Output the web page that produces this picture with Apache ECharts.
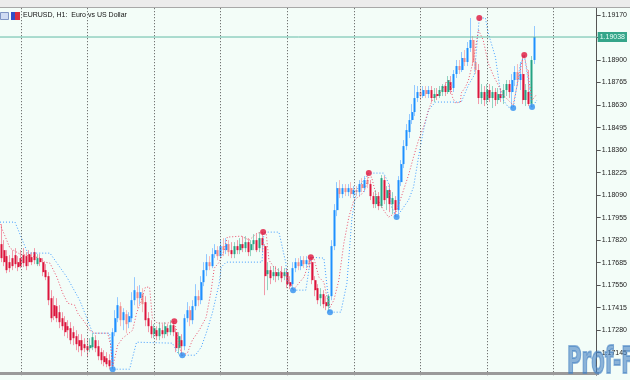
<!DOCTYPE html>
<html><head><meta charset="utf-8">
<script src="https://cdn.jsdelivr.net/npm/echarts@6/dist/echarts.min.js"></script>
<style>html,body{margin:0;padding:0;background:#f3fdf8}#c{width:630px;height:380px}</style>
</head><body><div id="c"></div>
<script>
// ---------- data ----------
const symbolTitle = 'EURUSD, H1:  Euro vs US Dollar';
const categories = Array.from({length: 215}, (_, i) => 'H' + i);
const yTickStart = 1.17010, yTickStep = 0.00135, yTop = 1.19212;
const lastPrice = 1.19038;

const open = [1.17796,1.17760,1.17724,1.17688,1.17712,1.17730,1.17688,1.17712,1.17730,1.17724,
1.17736,1.17718,1.17748,1.17676,1.17712,1.17688,1.17640,1.17604,1.17472,1.17430,
1.17424,1.17388,1.17352,1.17328,1.17304,1.17292,1.17268,1.17244,1.17220,1.17220,
1.17196,1.17184,1.17172,1.17178,1.17220,1.17184,1.17148,1.17124,1.17112,1.17100,
1.17064,1.17268,1.17352,1.17424,1.17340,1.17376,1.17328,1.17352,1.17460,1.17508,
1.17472,1.17496,1.17448,1.17352,1.17304,1.17256,1.17280,1.17244,1.17280,1.17256,
1.17292,1.17268,1.17310,1.17268,1.17172,1.17220,1.17184,1.17352,1.17400,1.17340,
1.17424,1.17484,1.17460,1.17568,1.17640,1.17688,1.17664,1.17736,1.17760,1.17724,
1.17784,1.17760,1.17796,1.17760,1.17736,1.17784,1.17760,1.17796,1.17772,1.17808,
1.17760,1.17796,1.17820,1.17772,1.17832,1.17784,1.17616,1.17640,1.17604,1.17628,
1.17604,1.17628,1.17604,1.17628,1.17568,1.17556,1.17652,1.17688,1.17664,1.17700,
1.17676,1.17700,1.17688,1.17580,1.17532,1.17472,1.17496,1.17448,1.17424,1.17484,
1.17784,1.18000,1.18132,1.18096,1.18132,1.18108,1.18132,1.18096,1.18120,1.18108,
1.18156,1.18132,1.18180,1.18156,1.18084,1.18036,1.18084,1.18024,1.18180,1.18072,
1.18120,1.18036,1.18060,1.18000,1.18168,1.18276,1.18384,1.18468,1.18540,1.18588,
1.18672,1.18708,1.18684,1.18720,1.18696,1.18720,1.18672,1.18696,1.18684,1.18708,
1.18744,1.18708,1.18768,1.18732,1.18816,1.18864,1.18840,1.18912,1.18888,1.18972,
1.19020,1.18888,1.18840,1.18672,1.18708,1.18660,1.18720,1.18672,1.18708,1.18660,
1.18696,1.18672,1.18720,1.18756,1.18708,1.18780,1.18828,1.18780,1.18816,1.18660,
1.18708,1.18636,1.18900];
const close = [1.17712,1.17688,1.17640,1.17652,1.17664,1.17676,1.17658,1.17664,1.17682,1.17664,
1.17688,1.17688,1.17700,1.17712,1.17688,1.17628,1.17598,1.17460,1.17352,1.17364,
1.17352,1.17328,1.17304,1.17268,1.17280,1.17220,1.17232,1.17196,1.17184,1.17160,
1.17172,1.17160,1.17190,1.17238,1.17172,1.17124,1.17100,1.17088,1.17076,1.17064,
1.17268,1.17352,1.17430,1.17340,1.17388,1.17316,1.17364,1.17460,1.17520,1.17472,
1.17508,1.17436,1.17340,1.17304,1.17256,1.17292,1.17244,1.17292,1.17256,1.17304,
1.17268,1.17310,1.17268,1.17172,1.17244,1.17184,1.17352,1.17400,1.17340,1.17424,
1.17484,1.17460,1.17568,1.17640,1.17688,1.17664,1.17736,1.17760,1.17724,1.17784,
1.17760,1.17796,1.17748,1.17736,1.17784,1.17760,1.17796,1.17772,1.17808,1.17748,
1.17796,1.17820,1.17760,1.17832,1.17790,1.17604,1.17640,1.17592,1.17628,1.17604,
1.17628,1.17592,1.17628,1.17556,1.17544,1.17652,1.17688,1.17664,1.17700,1.17676,
1.17700,1.17676,1.17580,1.17520,1.17460,1.17496,1.17436,1.17424,1.17484,1.17784,
1.18000,1.18132,1.18096,1.18132,1.18108,1.18132,1.18096,1.18120,1.18108,1.18156,
1.18132,1.18180,1.18156,1.18084,1.18036,1.18084,1.18024,1.18192,1.18060,1.18120,
1.18036,1.18072,1.18000,1.18180,1.18276,1.18384,1.18480,1.18540,1.18588,1.18672,
1.18708,1.18684,1.18720,1.18696,1.18720,1.18672,1.18696,1.18684,1.18720,1.18744,
1.18708,1.18780,1.18720,1.18816,1.18864,1.18840,1.18912,1.18888,1.18972,1.19020,
1.18888,1.18840,1.18672,1.18708,1.18660,1.18720,1.18672,1.18708,1.18660,1.18696,
1.18672,1.18720,1.18756,1.18708,1.18780,1.18828,1.18780,1.18816,1.18660,1.18720,
1.18636,1.18900,1.19038];
const high = [1.17916,1.17820,1.17760,1.17730,1.17760,1.17772,1.17724,1.17760,1.17772,1.17748,
1.17760,1.17748,1.17772,1.17736,1.17736,1.17712,1.17676,1.17628,1.17520,1.17484,
1.17472,1.17430,1.17388,1.17364,1.17340,1.17328,1.17304,1.17280,1.17256,1.17256,
1.17232,1.17232,1.17232,1.17262,1.17250,1.17220,1.17172,1.17160,1.17148,1.17136,
1.17292,1.17400,1.17478,1.17448,1.17412,1.17400,1.17388,1.17508,1.17598,1.17544,
1.17550,1.17532,1.17484,1.17388,1.17340,1.17316,1.17304,1.17328,1.17316,1.17328,
1.17316,1.17340,1.17334,1.17292,1.17268,1.17256,1.17376,1.17448,1.17424,1.17460,
1.17556,1.17520,1.17604,1.17688,1.17736,1.17724,1.17772,1.17796,1.17784,1.17820,
1.17832,1.17832,1.17820,1.17808,1.17808,1.17820,1.17832,1.17844,1.17844,1.17832,
1.17820,1.17856,1.17856,1.17868,1.17868,1.17796,1.17688,1.17664,1.17664,1.17664,
1.17652,1.17664,1.17652,1.17652,1.17604,1.17688,1.17712,1.17712,1.17724,1.17724,
1.17724,1.17712,1.17718,1.17604,1.17556,1.17532,1.17520,1.17484,1.17496,1.17820,
1.18036,1.18168,1.18180,1.18156,1.18156,1.18156,1.18168,1.18144,1.18144,1.18180,
1.18192,1.18204,1.18222,1.18180,1.18108,1.18120,1.18108,1.18210,1.18204,1.18144,
1.18156,1.18108,1.18084,1.18204,1.18300,1.18420,1.18516,1.18576,1.18636,1.18750,
1.18744,1.18732,1.18744,1.18744,1.18744,1.18744,1.18732,1.18732,1.18744,1.18756,
1.18768,1.18804,1.18804,1.18840,1.18900,1.18900,1.18948,1.18960,1.19008,1.19152,
1.19044,1.18912,1.18876,1.18756,1.18744,1.18756,1.18756,1.18744,1.18732,1.18732,
1.18732,1.18756,1.18780,1.18780,1.18816,1.18864,1.18876,1.18888,1.18930,1.18756,
1.18840,1.18924,1.19104];
const low = [1.17688,1.17664,1.17622,1.17628,1.17640,1.17652,1.17634,1.17652,1.17658,1.17640,
1.17664,1.17670,1.17676,1.17664,1.17664,1.17604,1.17580,1.17430,1.17328,1.17340,
1.17328,1.17292,1.17280,1.17244,1.17232,1.17196,1.17190,1.17160,1.17148,1.17124,
1.17148,1.17118,1.17148,1.17160,1.17148,1.17100,1.17076,1.17064,1.17058,1.17046,
1.17046,1.17244,1.17328,1.17304,1.17280,1.17262,1.17292,1.17328,1.17430,1.17412,
1.17436,1.17388,1.17304,1.17268,1.17232,1.17232,1.17220,1.17220,1.17232,1.17232,
1.17244,1.17250,1.17244,1.17148,1.17136,1.17124,1.17160,1.17328,1.17304,1.17316,
1.17400,1.17424,1.17436,1.17544,1.17604,1.17640,1.17652,1.17712,1.17700,1.17712,
1.17724,1.17736,1.17724,1.17712,1.17712,1.17736,1.17736,1.17748,1.17748,1.17724,
1.17724,1.17760,1.17748,1.17748,1.17748,1.17490,1.17520,1.17556,1.17580,1.17568,
1.17580,1.17568,1.17580,1.17532,1.17526,1.17520,1.17628,1.17640,1.17640,1.17652,
1.17652,1.17652,1.17556,1.17484,1.17436,1.17424,1.17412,1.17400,1.17388,1.17460,
1.17760,1.17964,1.18072,1.18072,1.18084,1.18084,1.18072,1.18072,1.18084,1.18084,
1.18108,1.18108,1.18132,1.18060,1.18012,1.18012,1.18000,1.18012,1.18036,1.18000,
1.17988,1.17976,1.17958,1.17976,1.18144,1.18252,1.18360,1.18432,1.18516,1.18564,
1.18648,1.18660,1.18672,1.18672,1.18672,1.18648,1.18648,1.18660,1.18672,1.18684,
1.18684,1.18696,1.18696,1.18708,1.18792,1.18816,1.18828,1.18864,1.18864,1.18948,
1.18864,1.18816,1.18636,1.18636,1.18624,1.18636,1.18648,1.18612,1.18624,1.18636,
1.18648,1.18636,1.18684,1.18672,1.18612,1.18744,1.18744,1.18720,1.18636,1.18624,
1.18624,1.18618,1.18876];
// indicator trend state per bar (U = up, D = down)
const trend = ('DDDDDDDDDD DDDDDDDDDD DDDDDDDDDD DDDDDDDDDD UUUUUUUUUU UUDDDDDDDD DDDDDDUUUU UUUUUUUUUU ' +
  'UUUDDDDDDD DDDDDDDDDD DDDDDUUUUU UUDDDDDDDU UUUUUUUUUU UUUDDDDDDD DDDUUUUUUU UUUUUDDDDD ' +
  'DDDUUUUUUU UUDDDDDDDD DDDDUUUUDD DDU').replace(/ /g, '').split('');
// channel lines [bar position, price]
const blueLine = [[-0.5,1.17928],[4.9,1.17928],[9.5,1.17742],[17.5,1.17742],[23.6,1.17598],[28.2,1.17460],[31.1,1.17340],[32.9,1.17262],[39,1.17262],[40.1,1.17046],[46.2,1.17046],[47.3,1.17118],[48.7,1.17208],[61.6,1.17202],[64.1,1.17130],[69.9,1.17130],[72,1.17178],[73.8,1.17262],[76,1.17382],[78.5,1.17562],[79.2,1.17658],[81,1.17688],[93.9,1.17688],[94.6,1.17868],[100,1.17868],[102.5,1.17682],[102.9,1.17580],[105.1,1.17520],[109.7,1.17520],[111.5,1.17718],[116.2,1.17712],[118.4,1.17388],[122.3,1.17388],[124.5,1.17562],[126.3,1.17952],[128,1.18120],[130.6,1.18180],[132.4,1.18222],[137.7,1.18222],[139.5,1.18162],[140.6,1.18018],[142.4,1.17958],[144.2,1.18000],[146.7,1.18060],[148.5,1.18138],[150.3,1.18318],[152.1,1.18480],[153.9,1.18600],[156.4,1.18648],[165.7,1.18648],[168.3,1.18750],[170.4,1.18810],[172.2,1.19152],[174.4,1.19152],[175.4,1.19062],[178,1.18918],[180.1,1.18678],[182.6,1.18618],[184.4,1.18612],[185.5,1.18720],[186.9,1.18870],[188.4,1.18930],[189.8,1.18780],[191.2,1.18618],[193,1.18660]];
const redLine = [[-0.5,1.17916],[1.3,1.17844],[3.1,1.17772],[6.7,1.17736],[11,1.17724],[13.9,1.17712],[15.7,1.17688],[17.5,1.17682],[20,1.17598],[22.1,1.17502],[23.9,1.17442],[26.4,1.17430],[27.5,1.17382],[30,1.17328],[31.8,1.17280],[33.6,1.17262],[38.3,1.17262],[39.4,1.17190],[40.1,1.17058],[41.9,1.17190],[43.7,1.17232],[47.3,1.17280],[48.7,1.17382],[50.5,1.17460],[51.9,1.17538],[53.4,1.17538],[54.4,1.17352],[56.2,1.17322],[59.8,1.17322],[62.3,1.17334],[63.1,1.17280],[64.1,1.17178],[65.2,1.17130],[67,1.17142],[68.8,1.17220],[71.3,1.17280],[73.8,1.17358],[75.6,1.17520],[76.7,1.17652],[78.5,1.17688],[80.3,1.17760],[81.4,1.17838],[86.4,1.17844],[89.3,1.17820],[92.1,1.17862],[94.3,1.17868],[95.4,1.17862],[96.4,1.17700],[98.2,1.17658],[100.8,1.17628],[102.9,1.17598],[104.3,1.17538],[105.1,1.17520],[107.2,1.17562],[109,1.17598],[110.8,1.17682],[111.5,1.17718],[112.6,1.17712],[114.4,1.17598],[116.2,1.17568],[117.3,1.17478],[118.4,1.17418],[119.8,1.17460],[121.6,1.17580],[123.4,1.17802],[125.2,1.17958],[127,1.18060],[129.5,1.18090],[130.9,1.18120],[132.4,1.18198],[133.4,1.18198],[135.2,1.18078],[137.7,1.18000],[139.5,1.17958],[142,1.17982],[143.1,1.18030],[144.9,1.18120],[146.7,1.18210],[148.5,1.18318],[150.3,1.18420],[152.1,1.18498],[153.9,1.18600],[155.7,1.18678],[157.5,1.18690],[161.1,1.18780],[161.8,1.18762],[162.5,1.18678],[163.6,1.18642],[165.4,1.18648],[165.7,1.18702],[167.2,1.18738],[168.3,1.18780],[170.1,1.18900],[171.9,1.19080],[173.6,1.19020],[175.4,1.18882],[177.2,1.18810],[179,1.18750],[180.8,1.18690],[182.6,1.18660],[184.4,1.18630],[186.2,1.18780],[187.7,1.18900],[188.4,1.18930],[189.8,1.18810],[191.2,1.18660],[192.7,1.18690]];
const lowDots = [[40.1,1.17046],[65.2,1.17130],[105.1,1.17520],[118.4,1.17388],[142.4,1.17958],[184.4,1.18612],[191.2,1.18618]];
const highDots = [[62.3,1.17334],[94.3,1.17868],[111.5,1.17718],[132.4,1.18222],[172.2,1.19152],[188.4,1.18930]];
const separatorBars = [7,31,55,79,103,127,151,175,199];

// ---------- styling ----------
const PAL = {
  U: {bull: '#1e90ff', bear: '#f08a8a', bullW: '#93c9ff', bearW: '#f6bcbc'},
  D: {bull: '#24a383', bear: '#dc143c', bullW: '#92d3c1', bearW: '#f19aaa'}
};
const wickData = [], bodyData = [];
for (let i = 0; i < open.length; i++) {
  const p = PAL[trend[i]];
  const bull = close[i] > open[i];
  const c = bull ? p.bull : p.bear, w = bull ? p.bullW : p.bearW;
  wickData.push({value: [open[i], close[i], low[i], high[i]],
    itemStyle: {color: w, color0: w, borderColor: w, borderColor0: w}});
  bodyData.push({value: [open[i], close[i], Math.min(open[i], close[i]), Math.max(open[i], close[i])],
    itemStyle: {color: c, color0: c, borderColor: c, borderColor0: c}});
}
const xMax = categories.length - 0.5;

const chart = echarts.init(document.getElementById('c'), null, {renderer: 'canvas'});
chart.setOption({
  animation: false,
  backgroundColor: '#f3fdf8',
  grid: {left: 0, right: 31, top: 8, bottom: 4.8, show: false},
  xAxis: [
    {type: 'category', data: categories, boundaryGap: true, show: false},
    {type: 'value', min: -0.5, max: xMax, show: false}
  ],
  yAxis: {
    type: 'value', position: 'right', min: yTickStart, max: yTop, interval: yTickStep,
    axisLine: {show: true, onZero: false, lineStyle: {color: '#555', width: 1}},
    axisTick: {show: true, inside: false, length: 4, lineStyle: {color: '#555'}},
    splitLine: {show: false},
    axisLabel: {show: true, showMinLabel: false, showMaxLabel: false, margin: 5,
      fontFamily: 'Liberation Sans', fontSize: 7, color: '#222',
      formatter: v => v.toFixed(5)}
  },
  series: [
    {type: 'line', xAxisIndex: 1, data: [], z: 0, silent: true,
     markLine: {silent: true, symbol: ['none', 'none'], label: {show: false},
       lineStyle: {color: '#555', type: [1, 2], width: 1},
       data: separatorBars.map(b => ({xAxis: b}))}},
    {type: 'candlestick', name: 'wick', xAxisIndex: 0, barWidth: 1, data: wickData, z: 2,
     itemStyle: {borderWidth: 1}},
    {type: 'candlestick', name: 'body', xAxisIndex: 0, barWidth: 2.5, data: bodyData, z: 3,
     itemStyle: {borderWidth: 0}},
    {type: 'line', name: 'blue channel', xAxisIndex: 1, data: blueLine, showSymbol: false, z: 4,
     lineStyle: {color: '#3f9cff', width: 1, type: [1, 2]}},
    {type: 'line', name: 'red channel', xAxisIndex: 1, data: redLine, showSymbol: false, z: 4,
     lineStyle: {color: '#e9506c', width: 1, type: [1, 2]}},
    {type: 'scatter', xAxisIndex: 1, data: lowDots, symbolSize: 6, z: 5,
     itemStyle: {color: '#2f8ff0'}},
    {type: 'scatter', xAxisIndex: 1, data: highDots, symbolSize: 6, z: 5,
     itemStyle: {color: '#e0143c'}},
    {type: 'line', name: 'bid', xAxisIndex: 1, data: [[-0.5, lastPrice], [xMax, lastPrice]],
     showSymbol: false, z: 6, silent: true,
     lineStyle: {color: '#62bba6', width: 1},
     endLabel: {show: true, distance: 1, formatter: () => lastPrice.toFixed(5),
       backgroundColor: '#35a58a', color: '#eafff8', fontFamily: 'Liberation Sans', fontSize: 7,
       padding: [2, 2, 1, 2]}}
  ],
  graphic: [
    {type: 'rect', shape: {x: 0, y: 0, width: 630, height: 7}, style: {fill: '#ececec'}, z: 10},
    {type: 'line', shape: {x1: 0, y1: 7.5, x2: 630, y2: 7.5}, style: {stroke: '#a8a8a8', lineWidth: 1}, z: 10},
    {type: 'rect', shape: {x: 0, y: 372, width: 599, height: 3}, style: {fill: '#9a9a9a'}, z: 10},
    {type: 'rect', shape: {x: 0.5, y: 12.5, width: 8, height: 7}, style: {fill: '#cfdcf3', stroke: '#7f95c4', lineWidth: 1}, z: 10},
    {type: 'rect', shape: {x: 11, y: 12, width: 4, height: 8}, style: {fill: '#3050c8'}, z: 10},
    {type: 'rect', shape: {x: 15, y: 12, width: 5, height: 8}, style: {fill: '#d83040'}, z: 10},
    {type: 'text', left: 23, top: 12, z: 10,
     style: {text: symbolTitle, fontFamily: 'Liberation Sans', fontSize: 7, fill: '#111'}},
    {type: 'text', x: 567, y: 344, scaleX: 0.52, z: 10,
     style: {text: 'Prof-Forex', fontFamily: 'DejaVu Sans', fontWeight: 'bold', fontSize: 38,
       fill: 'rgba(70,130,195,0.6)', stroke: 'rgba(70,130,195,0.6)', lineWidth: 2}}
  ]
});
</script>
</body></html>
